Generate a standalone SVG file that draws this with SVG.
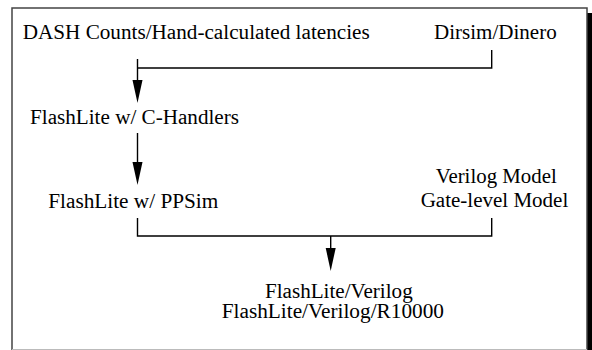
<svg xmlns="http://www.w3.org/2000/svg" width="592" height="350" viewBox="0 0 592 350">
<defs>
<style>
.t{font-family:'Liberation Serif','Times New Roman','DejaVu Serif',serif;font-size:20px;fill:#000}
.ln{stroke:#000;stroke-width:1.4;fill:none}
.hd{fill:#000}
</style>
</defs>
<rect x="0" y="0" width="592" height="350" fill="#fff"/>
<g id="frame">
<rect x="587" y="13" width="5" height="340" fill="#000"/>
<rect x="12" y="8" width="575" height="345" fill="#fff" stroke="#444" stroke-width="1.5"/>
<line x1="12" y1="349.5" x2="587" y2="349.5" stroke="#bbb" stroke-width="1"/>
</g>
<g id="connectors">
<path class="ln" d="M137.5 59 V82 M137.5 68 H491.7 V50"/>
<polygon class="hd" points="132.5,80 142.5,80 137.5,103"/>
<path class="ln" d="M137.5 133 V164"/>
<polygon class="hd" points="132.5,162 142.5,162 137.5,185"/>
<path class="ln" d="M137.5 218 V236 H491.7 V218 M330.7 236 V250"/>
<polygon class="hd" points="325.7,248 335.7,248 330.7,271"/>
</g>
<g class="t">
<g id="dash"><text x="22.7" y="39.3" textLength="347" lengthAdjust="spacingAndGlyphs">DASH Counts/Hand-calculated latencies</text></g>
<g id="dirsim"><text x="434" y="39.3" textLength="122.7" lengthAdjust="spacingAndGlyphs">Dirsim/Dinero</text></g>
<g id="chandlers"><text x="30" y="123.5" textLength="209" lengthAdjust="spacingAndGlyphs">FlashLite w/ C-Handlers</text></g>
<g id="ppsim"><text x="48.3" y="208" textLength="170" lengthAdjust="spacingAndGlyphs">FlashLite w/ PPSim</text></g>
<g id="verilogmodel">
<text x="435.7" y="183" textLength="121" lengthAdjust="spacingAndGlyphs">Verilog Model</text>
<text x="420.7" y="206.7" textLength="147.6" lengthAdjust="spacingAndGlyphs">Gate-level Model</text>
</g>
<g id="flashliteverilog">
<text x="265" y="298" textLength="147.7" lengthAdjust="spacingAndGlyphs">FlashLite/Verilog</text>
<text x="221.7" y="318" textLength="222.3" lengthAdjust="spacingAndGlyphs">FlashLite/Verilog/R10000</text>
</g>
</g>
</svg>
